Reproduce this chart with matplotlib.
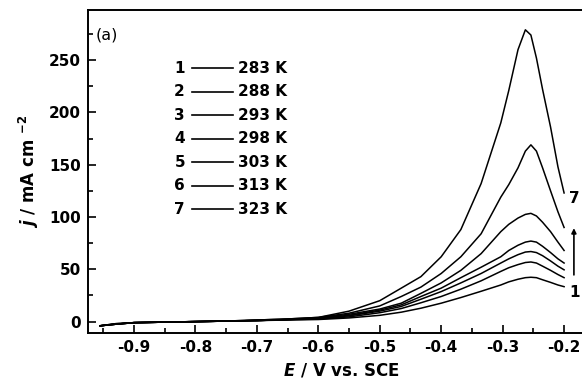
import matplotlib
matplotlib.use("Agg")
import matplotlib.pyplot as plt

plt.rcParams['font.family'] = ['DejaVu Sans']
plt.rcParams['axes.unicode_minus'] = False
plt.rcParams['mathtext.fontset'] = 'custom'
plt.rcParams['mathtext.rm'] = 'DejaVu Sans:bold'
plt.rcParams['mathtext.bf'] = 'DejaVu Sans:bold'
plt.rcParams['mathtext.it'] = 'DejaVu Sans:italic:bold'

# potential grid (V vs. SCE)
E = [-0.955, -0.93, -0.9, -0.85, -0.8, -0.75, -0.7, -0.65, -0.6, -0.55, -0.5, -0.465,
     -0.433, -0.4, -0.368, -0.335, -0.303, -0.29, -0.275, -0.263, -0.254, -0.245,
     -0.235, -0.222, -0.21, -0.2]

temps = ["283 K", "288 K", "293 K", "298 K", "303 K", "313 K", "323 K"]

# current density, mA cm-2
j1 = [-4, -2.5, -1, -0.5, 0, 0.5, 1, 1.5, 2, 3.5, 6, 9, 12.8, 17.6, 23, 29, 35, 38,
      40.5, 42, 42.4, 42, 40, 37.5, 35, 33.4]
j2 = [-4, -2.5, -1, -0.5, 0, 0.5, 1, 1.8, 2.5, 4.5, 8.5, 12.5, 18, 24, 31, 39, 48, 51.5,
      54.5, 56.5, 57, 56, 53, 49, 45, 42]
j3 = [-4, -2.5, -1, -0.5, 0, 0.5, 1, 2, 3, 5.5, 10, 14.5, 21.4, 28.7, 37, 46, 56, 60,
      64, 66.5, 67, 66, 63, 58, 53, 49.5]
j4 = [-4, -2.5, -1, -0.5, 0, 0.5, 1, 2, 3, 6, 11, 16, 24, 32, 42, 52, 62, 68,
      73, 76, 77, 76, 72, 66, 60, 56]
j5 = [-4, -2.5, -1, -0.5, 0, 0.5, 1, 2, 3.5, 7, 12, 17.6, 27, 37, 49, 65, 86, 93,
      99, 102.5, 103.5, 101, 95, 86, 76, 68]
j6 = [-4, -2, -1, -0.5, 0, 0.5, 1.5, 2.5, 4, 8, 15, 24, 33, 46, 62, 84, 119, 131,
      147, 163, 169, 163, 147, 125, 105, 90]
j7 = [-4, -2, -1, -0.5, 0, 0.5, 1.5, 2.5, 4, 10, 20, 32, 43, 62, 88, 132, 190, 221,
      260, 279, 274, 252, 222, 186, 148, 123]
curves = [j1, j2, j3, j4, j5, j6, j7]

fig = plt.figure(figsize=(5.82, 3.82), dpi=100)
ax = fig.add_axes([0.151, 0.128, 0.871, 0.846])

for jj in curves:
    ax.plot(E, jj, color='black', lw=1.1)

ax.set_xlim(-0.975, -0.15)
ax.set_ylim(-11, 298)
ax.set_xticks([-0.9, -0.8, -0.7, -0.6, -0.5, -0.4, -0.3, -0.2])
ax.set_xticks([-0.95, -0.85, -0.75, -0.65, -0.55, -0.45, -0.35, -0.25, -0.15], minor=True)
ax.set_yticks([0, 50, 100, 150, 200, 250])
ax.set_yticks([25, 75, 125, 175, 225, 275], minor=True)
ax.tick_params(which='both', direction='in', width=1.2, labelsize=11)
ax.tick_params(which='major', length=6, pad=5)
ax.tick_params(which='minor', length=3.5)
for lab in ax.get_xticklabels() + ax.get_yticklabels():
    lab.set_fontweight('bold')
for s in ax.spines.values():
    s.set_linewidth(1.4)

ax.set_xlabel(r"$E$ / V vs. SCE", fontsize=12, fontweight='bold', labelpad=5)
ax.set_ylabel(r"$j$ / mA cm $^{-2}$", fontsize=12, fontweight='bold', labelpad=6)

ax.text(0.016, 0.923, "(a)", transform=ax.transAxes, fontsize=11.5, va='center')

# legend block
for i, t in enumerate(temps):
    yy = 0.820 - i * 0.0727
    ax.text(0.1915, yy, str(i + 1), transform=ax.transAxes, fontsize=11,
            fontweight='bold', ha='right', va='center')
    ax.plot([0.205, 0.286], [yy, yy], transform=ax.transAxes, color='black', lw=1.2)
    ax.text(0.296, yy, t, transform=ax.transAxes, fontsize=11,
            fontweight='bold', ha='left', va='center')

# arrow from curve 1 to curve 7
ax.annotate("", xy=(-0.184, 92), xytext=(-0.184, 42),
            arrowprops=dict(arrowstyle='-|>', color='black', lw=1.2, mutation_scale=7))
ax.text(-0.183, 118, "7", fontsize=11, fontweight='bold', ha='center', va='center')
ax.text(-0.183, 28, "1", fontsize=11, fontweight='bold', ha='center', va='center')

fig.savefig("out.png", dpi=100)
